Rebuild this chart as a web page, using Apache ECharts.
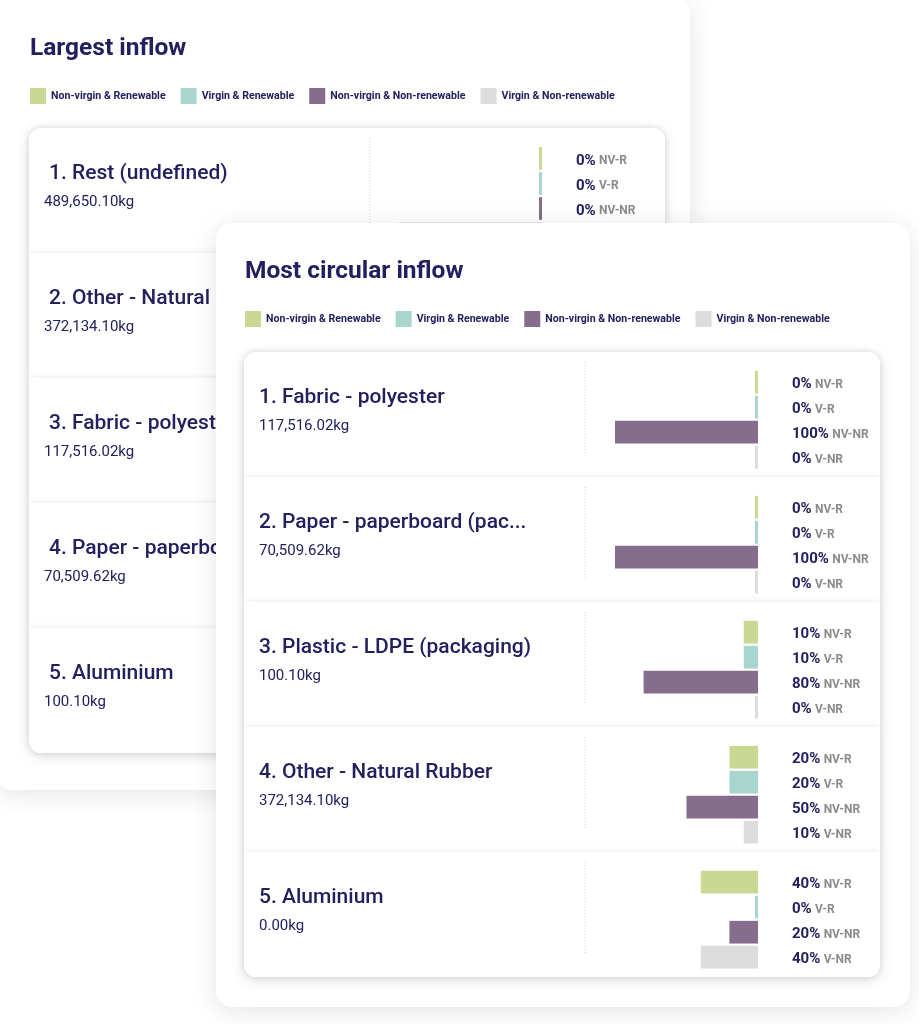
<!DOCTYPE html>
<html>
<head>
<meta charset="utf-8">
<script src="https://cdn.jsdelivr.net/npm/echarts@6/dist/echarts.min.js"></script>
<style>
html,body{margin:0;padding:0;background:#fff;}
#c{width:919px;height:1024px;}
</style>
</head>
<body>
<div id="c"></div>
<script>
// ---------- data ----------
const legendNames = ['Non-virgin & Renewable', 'Virgin & Renewable', 'Non-virgin & Non-renewable', 'Virgin & Non-renewable'];
const shortNames = ['NV-R', 'V-R', 'NV-NR', 'V-NR'];

const backTitle = 'Largest inflow';
const backItems = ['1. Rest (undefined)', '2. Other - Natural Rubber', '3. Fabric - polyester', '4. Paper - paperboard (pac...', '5. Aluminium'];
const backWeights = ['489,650.10kg', '372,134.10kg', '117,516.02kg', '70,509.62kg', '100.10kg'];
const backShares = [[0, 0, 0, 100]]; // only the first row is visible

const frontTitle = 'Most circular inflow';
const frontItems = ['1. Fabric - polyester', '2. Paper - paperboard (pac...', '3. Plastic - LDPE (packaging)', '4. Other - Natural Rubber', '5. Aluminium'];
const frontWeights = ['117,516.02kg', '70,509.62kg', '100.10kg', '372,134.10kg', '0.00kg'];
const frontShares = [
  [0, 0, 100, 0],
  [0, 0, 100, 0],
  [10, 10, 80, 0],
  [20, 20, 50, 10],
  [40, 0, 20, 40]
];

// ---------- styles ----------
const palette = ['#c9d994', '#a9d5cf', '#866d8d', '#dcdcdc'];
const NAVY = '#22205e';
const GREY = '#8b8b8b';
const FONT = 'Roboto';
const ROW_H = 125;

const chart = echarts.init(document.getElementById('c'), null, {renderer: 'canvas'});

const grids = [], xAxes = [], yAxes = [], series = [], graphics = [];

function renderBar(params, api) {
  const v = api.value(0), c = api.value(1);
  const base = api.coord([0, c]);
  const end = api.coord([v, c]);
  const band = api.size([0, 1])[1];
  const h = band - 2.3;
  const w = Math.max(base[0] - end[0], 3);
  return {
    type: 'rect',
    shape: {x: base[0] - w, y: base[1] - h / 2, width: w, height: h},
    style: {fill: palette[c]}
  };
}

function addBars(shares, left, top, z) {
  const gi = grids.length;
  grids.push({left: left, top: top, width: 143, height: 100, containLabel: false});
  xAxes.push({gridIndex: gi, type: 'value', min: 0, max: 100, inverse: true, show: false});
  yAxes.push({
    gridIndex: gi, type: 'category', data: shortNames, inverse: true, position: 'right', z: z,
    axisLine: {show: false}, axisTick: {show: false}, splitLine: {show: false},
    axisLabel: {
      margin: 34, align: 'left', padding: [5, 0, 0, 0],
      formatter: (val, idx) => '{v|' + shares[idx] + '%} {k|' + val + '}',
      rich: {
        v: {fontFamily: FONT, fontSize: 15, fontWeight: 'bold', color: NAVY},
        k: {fontFamily: FONT, fontSize: 12, fontWeight: 'bold', color: GREY}
      }
    }
  });
  series.push({
    type: 'custom', xAxisIndex: gi, yAxisIndex: gi, z: z, silent: true,
    renderItem: renderBar,
    encode: {x: 0, y: 1},
    data: shares.map((v, i) => [v, i])
  });
}

function addCard(o) {
  const z = o.z;
  graphics.push({type: 'rect', z: z, shape: {x: o.cx, y: o.cy, width: o.cw, height: o.ch, r: 16},
    style: {fill: '#fff', shadowBlur: 26, shadowColor: 'rgba(0,0,0,0.11)', shadowOffsetY: 4}});
  graphics.push({type: 'text', z: z, x: o.tx, y: o.ty,
    style: {text: o.title, fill: NAVY, font: 'bold 24.5px ' + FONT, align: 'left', verticalAlign: 'middle'}});
  graphics.push({type: 'rect', z: z, shape: {x: o.bx, y: o.by, width: 636, height: ROW_H * 5, r: 12},
    style: {fill: '#fff', shadowBlur: 14, shadowColor: 'rgba(0,0,0,0.13)', shadowOffsetY: 3}});
  for (let i = 0; i < 5; i++) {
    const top = o.by + ROW_H * i;
    const r = i === 0 ? [12, 12, 0, 0] : (i === 4 ? [0, 0, 12, 12] : 0);
    graphics.push({type: 'rect', z: z, shape: {x: o.bx, y: top, width: 636, height: ROW_H, r: r},
      style: {fill: '#fff', shadowBlur: 7, shadowColor: 'rgba(0,0,0,0.10)'}});
  }
  for (let i = 0; i < 5; i++) {
    const top = o.by + ROW_H * i;
    graphics.push({type: 'line', z: z, shape: {x1: o.bx + 341, y1: top + 10, x2: o.bx + 341, y2: top + 103},
      style: {stroke: '#d4d4d4', lineWidth: 1, lineDash: [1, 2]}});
    graphics.push({type: 'text', z: z, x: o.bx + o.titleDx, y: top + 45.5,
      style: {text: o.items[i], fill: NAVY, font: '500 21px ' + FONT, align: 'left', verticalAlign: 'middle'}});
    graphics.push({type: 'text', z: z, x: o.bx + 15, y: top + 74,
      style: {text: o.weights[i], fill: NAVY, font: '15px ' + FONT, align: 'left', verticalAlign: 'middle'}});
  }
}

// back card
addCard({z: 0, cx: -4, cy: -4, cw: 694, ch: 794, tx: 30, ty: 49, title: backTitle,
  bx: 29, by: 128, titleDx: 20, items: backItems, weights: backWeights});
backShares.forEach((s, i) => addBars(s, 29 + 513 - 143, 128 + ROW_H * i + 18, 1));

// front card
addCard({z: 3, cx: 216, cy: 223, cw: 694, ch: 784, tx: 245, ty: 272, title: frontTitle,
  bx: 244, by: 352, titleDx: 15, items: frontItems, weights: frontWeights});
frontShares.forEach((s, i) => addBars(s, 244 + 514 - 143, 352 + ROW_H * i + 17.7, 4));

// legend carrier series (no data)
legendNames.forEach((n, i) => {
  series.push({type: 'bar', name: n, xAxisIndex: 0, yAxisIndex: 0, data: [], itemStyle: {color: palette[i]}});
});

const legendBase = {
  data: legendNames, icon: 'rect', itemWidth: 16, itemHeight: 16, itemGap: 15, padding: 0,
  selectedMode: false, orient: 'horizontal',
  textStyle: {fontFamily: FONT, fontSize: 10.6, fontWeight: 'bold', color: NAVY}
};

chart.setOption({
  animation: false,
  backgroundColor: '#fff',
  legend: [
    Object.assign({}, legendBase, {left: 30, top: 88, z: 1}),
    Object.assign({}, legendBase, {left: 245, top: 311, z: 4})
  ],
  grid: grids,
  xAxis: xAxes,
  yAxis: yAxes,
  series: series,
  graphic: graphics
});
</script>
</body>
</html>
